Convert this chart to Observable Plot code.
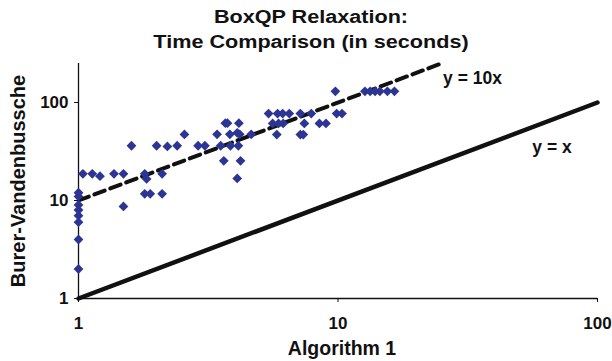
<!DOCTYPE html>
<html>
<head>
<meta charset="utf-8">
<script src="https://cdn.jsdelivr.net/npm/d3@7"></script>
<script src="https://cdn.jsdelivr.net/npm/@observablehq/plot@0.6"></script>
<style>
  html, body { margin: 0; padding: 0; background: #fff; }
  #wrap { position: relative; width: 612px; height: 361px; overflow: hidden; font-family: "Liberation Sans", Arial, sans-serif; }
  #title { position: absolute; left: 0; top: 5px; width: 622px; text-align: center; font-weight: bold; font-size: 18px; line-height: 25px; color: #111; transform: scaleX(1.2); transform-origin: 311px 0; }
  #chart { position: absolute; left: 0; top: 58px; }
</style>
</head>
<body>
<div id="wrap">
  <div id="title">BoxQP Relaxation:<br>Time Comparison (in seconds)</div>
  <div id="chart"></div>
</div>
<script>
// Algorithm 1 time (x) and Burer-Vandenbussche time (y), seconds
const algorithm1 = [
  1, 1, 1, 1, 1, 1, 1, 1,
  1.04, 1.13, 1.21, 1.37, 1.49, 1.49, 1.60, 1.80, 1.83, 1.80, 1.89, 2.0, 2.10, 2.10, 2.20, 2.40, 2.56,
  2.89, 3.07, 3.42, 3.53, 3.63, 3.68, 3.75, 3.83, 3.85, 4.09, 4.09, 4.13, 4.15, 4.18, 4.21, 4.63,
  5.40, 5.60, 5.81, 5.85, 5.90, 6.12, 6.15, 6.49, 7.16, 7.16, 7.35, 7.42, 7.89, 8.48, 8.99,
  9.77, 9.88, 10.36, 12.7, 13.3, 13.9, 14.5, 15.5, 16.5
];
const burerVandenbussche = [
  12, 11, 9, 8, 7, 6, 4, 2,
  18.7, 18.7, 17.7, 18.7, 18.7, 8.7, 36.2, 18.7, 16.6, 11.7, 11.7, 36.2, 18.7, 11.7, 35.6, 36.2, 47.2,
  36.2, 36.2, 47.3, 36.2, 25.4, 61.5, 61.5, 47.3, 36.2, 49, 16.8, 36.2, 61.5, 47.3, 25.4, 47.3,
  77.2, 61.1, 47.1, 77.2, 61.1, 77.2, 61.1, 77.2, 77.2, 47.1, 47.1, 61.1, 77.2, 61.1, 61.1,
  130, 77.2, 77.2, 130, 130, 130, 130, 130, 130
];
// reference lines (endpoints)
const lineYeqX = { x: [1, 100], y: [1, 100] };
const lineYeq10X = { x: [1, 25], y: [10, 250] };
// axis ticks
const ticks = [1, 10, 100];
// annotations
const annotationText = ["y = 10x", "y = x"];
const annotationX = [33, 66.8];
const annotationY = [176, 34.7];

const points = algorithm1.map((x, i) => ({ x, y: burerVandenbussche[i] }));
const solid = lineYeqX.x.map((x, i) => ({ x, y: lineYeqX.y[i] }));
const dashed = lineYeq10X.x.map((x, i) => ({ x, y: lineYeq10X.y[i] }));
const notes = annotationText.map((t, i) => ({ t, x: annotationX[i], y: annotationY[i] }));

const chart = Plot.plot({
  width: 612,
  height: 303,
  marginTop: 5,
  marginBottom: 63,
  marginLeft: 78,
  marginRight: 15,
  x: { type: "log", domain: [1, 100] },
  y: { type: "log", domain: [1, 250] },
  style: { fontFamily: "Liberation Sans, Arial, sans-serif", fontWeight: "bold", color: "#111", background: "white", overflow: "visible" },
  marks: [
    Plot.axisX({ ticks, tickFormat: d => String(d), tickSize: 4, tickPadding: 14, label: null, fontSize: 17, stroke: "#111" }),
    Plot.axisY({ ticks, tickFormat: d => String(d), tickSize: 4, tickPadding: 6, label: null, fontSize: 17, stroke: "#111" }),
    Plot.ruleX([1], { stroke: "#111", strokeWidth: 1.3 }),
    Plot.ruleY([1], { stroke: "#111", strokeWidth: 1.3 }),
    Plot.line(solid, { x: "x", y: "y", stroke: "#111", strokeWidth: 4.5 }),
    Plot.line(dashed, { x: "x", y: "y", stroke: "#111", strokeWidth: 4, strokeDasharray: "11,6" }),
    Plot.dot(points, { x: "x", y: "y", symbol: "diamond2", r: 4.4, fill: "#2c3593", stroke: null }),
    Plot.text(notes, { x: "x", y: "y", text: "t", fontSize: 17.5, fontWeight: "bold", fill: "#111" }),
    Plot.text(["Algorithm 1"], { text: d => d, frameAnchor: "bottom", lineAnchor: "middle", textAnchor: "middle", dy: 50, dx: 4, fontSize: 19.5, fontWeight: "bold", fill: "#111" }),
    Plot.text(["Burer-Vandenbussche"], { text: d => d, frameAnchor: "left", lineAnchor: "middle", textAnchor: "middle", dx: -60, rotate: -90, fontSize: 20, fontWeight: "bold", fill: "#111" })
  ]
});
document.getElementById("chart").appendChild(chart);
</script>
</body>
</html>
